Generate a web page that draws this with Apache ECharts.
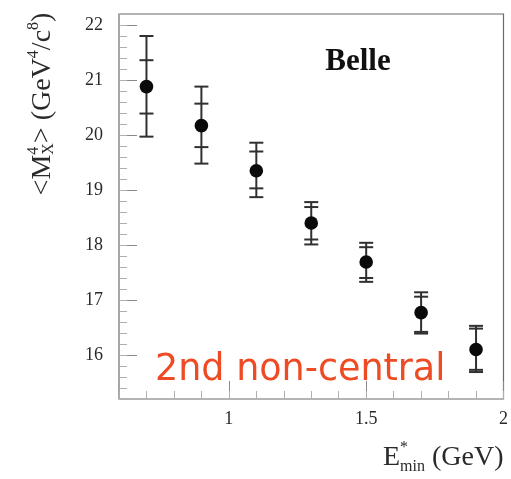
<!DOCTYPE html>
<html>
<head>
<meta charset="utf-8">
<script src="https://cdn.jsdelivr.net/npm/echarts@6/dist/echarts.min.js"></script>
<style>
  html, body { margin: 0; padding: 0; background: #ffffff; }
  #chart { width: 511px; height: 479px; }
</style>
</head>
<body>
<div id="chart"></div>
<script>
// Minimum energy cut E*_min (GeV)
const energyCut = [0.7, 0.9, 1.1, 1.3, 1.5, 1.7, 1.9];
// Second non-central moment <M_X^4> (GeV^4/c^8)
const meanMx4 = [20.88, 20.17, 19.35, 18.40, 17.69, 16.77, 16.10];
// Inner (statistical) error band
const statLow  = [20.39, 19.78, 19.03, 18.10, 17.40, 16.42, 15.73];
const statHigh = [21.36, 20.57, 19.70, 18.69, 17.96, 17.06, 16.48];
// Outer (total) error band
const totalLow  = [19.97, 19.48, 18.87, 18.01, 17.33, 16.39, 15.69];
const totalHigh = [21.80, 20.88, 19.86, 18.78, 18.04, 17.14, 16.53];
// Axis ticks
const xMajorTicks = [1, 1.5, 2];
const yMajorTicks = [16, 17, 18, 19, 20, 21, 22];

const SERIF = '"Liberation Serif", "DejaVu Serif", serif';
const INK = '#2a2a2a';

const rows = energyCut.map((x, i) => [x, meanMx4[i], statLow[i], statHigh[i], totalLow[i], totalHigh[i]]);

// Text layout helper for labels with super/subscripts
const measureCtx = document.createElement('canvas').getContext('2d');
function textWidth(t, size) {
  measureCtx.font = size + 'px "Liberation Serif"';
  return measureCtx.measureText(t).width;
}
function buildLabel(runs, cx, cy, rotation, centered) {
  let u = 0;
  const items = [];
  runs.forEach(run => {
    let w = 0;
    run.forEach(p => {
      items.push({ p, u });
      w = Math.max(w, textWidth(p.text, p.size));
    });
    u += w;
  });
  const start = centered ? -u / 2 : 0;
  return {
    type: 'group',
    x: cx, y: cy, rotation: rotation,
    children: items.map(({ p, u }) => ({
      type: 'text',
      x: start + u,
      y: p.shift || 0,
      style: {
        text: p.text,
        fontFamily: SERIF,
        fontSize: p.size,
        fill: INK,
        align: 'left',
        verticalAlign: 'middle'
      }
    }))
  };
}

const BIG = 28, SMALL = 16;
const yTitle = buildLabel([
  [{ text: '<M', size: BIG }],
  [{ text: '4', size: SMALL, shift: -9 }, { text: 'X', size: SMALL, shift: 6 }],
  [{ text: '> (GeV', size: BIG }],
  [{ text: '4', size: SMALL, shift: -9 }],
  [{ text: '/c', size: BIG }],
  [{ text: '8', size: SMALL, shift: -9 }],
  [{ text: ')', size: BIG }]
], 43, 104, Math.PI / 2, true);

const xTitle = buildLabel([
  [{ text: 'E', size: BIG }],
  [{ text: '*', size: SMALL, shift: -10 }, { text: 'min', size: SMALL, shift: 9 }],
  [{ text: ' (GeV)', size: BIG }]
], 383, 458, 0, false);

function renderErrorBar(params, api) {
  const x = api.value(0);
  const at = v => api.coord([x, v]);
  const c = at(api.value(1));
  const capHalf = 7;
  const stroke = { stroke: '#303030', lineWidth: 2 };
  const cap = v => {
    const p = at(v);
    return { type: 'line', shape: { x1: p[0] - capHalf, y1: p[1], x2: p[0] + capHalf, y2: p[1] }, style: stroke };
  };
  const top = at(api.value(5)), bot = at(api.value(4));
  return {
    type: 'group',
    children: [
      { type: 'line', shape: { x1: top[0], y1: top[1], x2: bot[0], y2: bot[1] }, style: stroke },
      cap(api.value(2)), cap(api.value(3)), cap(api.value(4)), cap(api.value(5)),
      { type: 'circle', shape: { cx: c[0], cy: c[1], r: 6.8 }, style: { fill: '#0a0a0a' } }
    ]
  };
}

const chart = echarts.init(document.getElementById('chart'), null, { renderer: 'canvas' });
chart.setOption({
  animation: false,
  backgroundColor: '#ffffff',
  grid: {
    left: 119, right: 6, top: 14, bottom: 80,
    show: true, borderColor: '#6a6a6a', borderWidth: 1.2, backgroundColor: 'transparent'
  },
  xAxis: [
    {
      type: 'value', min: 0.6, max: 2.0, position: 'bottom',
      axisLine: { show: false },
      splitLine: { show: false },
      axisTick: { inside: true, length: 18, customValues: xMajorTicks, lineStyle: { color: '#8a8a8a', width: 1 } },
      axisLabel: {
        customValues: xMajorTicks, margin: 11,
        fontFamily: SERIF, fontSize: 18, color: INK,
        formatter: v => String(v)
      }
    },
    {
      type: 'value', min: 0.6, max: 2.0, interval: 0.1, position: 'bottom',
      axisLine: { show: false },
      splitLine: { show: false },
      axisTick: { inside: true, length: 8, lineStyle: { color: '#b0b0b0', width: 1 } },
      axisLabel: { show: false }
    }
  ],
  yAxis: [
    {
      type: 'value', min: 15.2, max: 22.2, position: 'left',
      axisLine: { show: false },
      splitLine: { show: false },
      axisTick: { inside: true, length: 18, customValues: yMajorTicks, lineStyle: { color: '#8a8a8a', width: 1 } },
      axisLabel: {
        customValues: yMajorTicks, margin: 16,
        fontFamily: SERIF, fontSize: 18, color: INK
      }
    },
    {
      type: 'value', min: 15.2, max: 22.2, interval: 0.2, position: 'left',
      axisLine: { show: false },
      splitLine: { show: false },
      axisTick: { inside: true, length: 8, lineStyle: { color: '#b0b0b0', width: 1 } },
      axisLabel: { show: false }
    }
  ],
  series: [{
    type: 'custom',
    xAxisIndex: 0, yAxisIndex: 0,
    renderItem: renderErrorBar,
    encode: { x: 0, y: 1 },
    data: rows,
    z: 10
  }],
  graphic: [
    yTitle,
    xTitle,
    {
      type: 'text', x: 358, y: 62,
      style: { text: 'Belle', fontFamily: SERIF, fontWeight: 'bold', fontSize: 31, fill: '#111', align: 'center', verticalAlign: 'middle' }
    },
    {
      type: 'text', x: 155, y: 371, z: 20,
      style: { text: '2nd non-central', fontFamily: '"DejaVu Sans", sans-serif', fontSize: 36.5, fill: '#ee4a24', align: 'left', verticalAlign: 'middle' }
    }
  ]
});
</script>
</body>
</html>
